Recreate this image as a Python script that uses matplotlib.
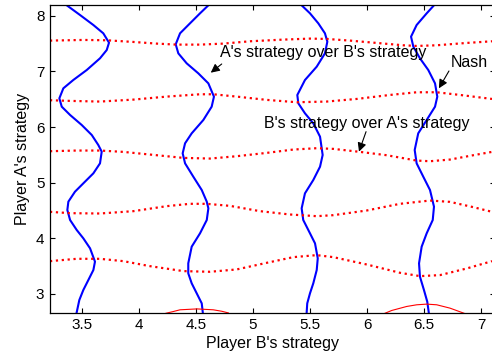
import matplotlib
matplotlib.use('Agg')
import matplotlib.pyplot as plt

plt.rcParams['font.family'] = ['Liberation Sans', 'DejaVu Sans']

# Кривые лучшего ответа A на стратегию B (синие, x как функция от y)
blue1_x = [3.369, 3.485, 3.602, 3.689, 3.739, 3.719, 3.660, 3.544, 3.426, 3.339, 3.304,
           3.325, 3.398, 3.500, 3.588, 3.645, 3.675, 3.660, 3.602, 3.514, 3.441, 3.383,
           3.374, 3.398, 3.456, 3.514, 3.573, 3.616, 3.602, 3.558, 3.514, 3.479, 3.456]
blue1_y = [8.186, 8.012, 7.832, 7.683, 7.515, 7.383, 7.234, 7.024, 6.844, 6.695, 6.515,
           6.365, 6.216, 6.036, 5.856, 5.677, 5.557, 5.347, 5.168, 4.988, 4.838, 4.659,
           4.509, 4.329, 4.150, 4.000, 3.820, 3.581, 3.431, 3.251, 3.072, 2.892, 2.671]

blue2_x = [4.609, 4.536, 4.448, 4.361, 4.323, 4.346, 4.419, 4.521, 4.609, 4.658, 4.638,
           4.565, 4.463, 4.405, 4.384, 4.405, 4.477, 4.551, 4.595, 4.609, 4.595, 4.536,
           4.463, 4.433, 4.433, 4.463, 4.507, 4.551, 4.560]
blue2_y = [8.186, 8.042, 7.862, 7.683, 7.485, 7.323, 7.144, 6.964, 6.784, 6.545, 6.365,
           6.126, 5.886, 5.707, 5.527, 5.347, 5.108, 4.868, 4.659, 4.539, 4.329, 4.090,
           3.850, 3.551, 3.371, 3.192, 3.012, 2.832, 2.671]

blue3_x = [5.426, 5.499, 5.572, 5.630, 5.651, 5.630, 5.558, 5.455, 5.388, 5.397, 5.455,
           5.528, 5.587, 5.610, 5.587, 5.528, 5.455, 5.426, 5.440, 5.499, 5.543, 5.567,
           5.558, 5.528, 5.499, 5.475, 5.470]
blue3_y = [8.186, 8.042, 7.862, 7.683, 7.533, 7.323, 7.084, 6.844, 6.575, 6.425, 6.246,
           6.066, 5.826, 5.497, 5.287, 5.048, 4.808, 4.539, 4.329, 4.090, 3.910, 3.641,
           3.431, 3.192, 3.012, 2.832, 2.671]

blue4_x = [6.585, 6.521, 6.433, 6.384, 6.404, 6.462, 6.535, 6.594, 6.614, 6.594, 6.521,
           6.447, 6.416, 6.433, 6.491, 6.550, 6.585, 6.574, 6.521, 6.477, 6.454, 6.462,
           6.497, 6.526, 6.539]
blue4_y = [8.186, 8.042, 7.832, 7.623, 7.443, 7.234, 7.024, 6.784, 6.545, 6.365, 6.126,
           5.886, 5.587, 5.347, 5.108, 4.868, 4.569, 4.329, 4.090, 3.850, 3.551, 3.311,
           3.072, 2.862, 2.671]

# Кривые лучшего ответа B на стратегию A (красные пунктирные)
red1_x = [3.222, 3.514, 3.719, 3.952, 4.157, 4.332, 4.536, 4.740, 4.974, 5.265, 5.499,
          5.645, 5.849, 6.083, 6.316, 6.433, 6.608, 6.871, 7.093]
red1_y = [7.552, 7.564, 7.558, 7.528, 7.498, 7.480, 7.480, 7.498, 7.540, 7.570, 7.588,
          7.582, 7.552, 7.510, 7.468, 7.456, 7.468, 7.510, 7.540]

red2_x = [3.222, 3.398, 3.660, 3.952, 4.244, 4.536, 4.652, 4.857, 5.120, 5.383, 5.645,
          5.908, 6.200, 6.433, 6.608, 6.812, 7.093]
red2_y = [6.481, 6.469, 6.457, 6.492, 6.546, 6.588, 6.588, 6.546, 6.487, 6.445, 6.457,
          6.504, 6.576, 6.624, 6.624, 6.576, 6.504]

red3_x = [3.222, 3.456, 3.660, 3.864, 4.098, 4.390, 4.623, 4.857, 5.120, 5.353, 5.558,
          5.703, 5.937, 6.171, 6.433, 6.550, 6.725, 6.929, 7.093]
red3_y = [5.565, 5.577, 5.577, 5.553, 5.505, 5.445, 5.433, 5.475, 5.535, 5.595, 5.619,
          5.607, 5.553, 5.493, 5.397, 5.385, 5.415, 5.493, 5.553]

red4_x = [3.222, 3.398, 3.660, 3.952, 4.244, 4.448, 4.595, 4.799, 5.061, 5.324, 5.558,
          5.703, 5.996, 6.287, 6.550, 6.725, 6.929, 7.093]
red4_y = [4.476, 4.452, 4.446, 4.488, 4.578, 4.620, 4.620, 4.583, 4.488, 4.428, 4.398,
          4.416, 4.500, 4.620, 4.679, 4.655, 4.560, 4.476]

red5_x = [3.222, 3.456, 3.660, 3.864, 4.098, 4.390, 4.623, 4.857, 5.120, 5.353, 5.558,
          5.703, 5.996, 6.287, 6.462, 6.637, 6.871, 7.093]
red5_y = [3.590, 3.632, 3.632, 3.590, 3.500, 3.411, 3.399, 3.441, 3.560, 3.662, 3.698,
          3.662, 3.530, 3.381, 3.321, 3.339, 3.458, 3.590]

# Небольшие дуги у нижней границы
arc1_x = [4.238, 4.302, 4.361, 4.510, 4.652, 4.726, 4.784]
arc1_y = [2.654, 2.685, 2.716, 2.732, 2.716, 2.690, 2.660]
arc2_x = [6.156, 6.215, 6.346, 6.434, 6.521, 6.609, 6.725, 6.848]
arc2_y = [2.654, 2.704, 2.776, 2.806, 2.818, 2.806, 2.746, 2.654]

x_ticks = [3.5, 4, 4.5, 5, 5.5, 6, 6.5, 7]
x_tick_labels = ['3.5', '4', '4.5', '5', '5.5', '6', '6.5', '7']
y_ticks = [3, 4, 5, 6, 7, 8]

fig = plt.figure(figsize=(4.92, 3.62), dpi=100)
ax = fig.add_axes([0.1016, 0.1362, 0.9035, 0.8508])

for xs, ys in [(blue1_x, blue1_y), (blue2_x, blue2_y),
               (blue3_x, blue3_y), (blue4_x, blue4_y)]:
    ax.plot(xs, ys, color='#0000ff', lw=1.5, solid_joinstyle='round')

for xs, ys in [(red1_x, red1_y), (red2_x, red2_y), (red3_x, red3_y),
               (red4_x, red4_y), (red5_x, red5_y)]:
    ax.plot(xs, ys, color='#ff0000', lw=1.6, linestyle=':')

for xs, ys in [(arc1_x, arc1_y), (arc2_x, arc2_y)]:
    ax.plot(xs, ys, color='#ff0000', lw=0.8)

ax.set_xlim(3.222, 7.115)
ax.set_ylim(2.664, 8.197)
ax.set_xticks(x_ticks)
ax.set_xticklabels(x_tick_labels)
ax.set_yticks(y_ticks)
ax.tick_params(direction='in', top=True, right=True, length=3.6, width=0.8,
               labelsize=11, pad=4)
for sp in ax.spines.values():
    sp.set_linewidth(0.9)

ax.set_xlabel("Player B's strategy", fontsize=11.5, labelpad=3)
ax.set_ylabel("Player A's strategy", fontsize=11.5, labelpad=4)

# Подписи и стрелки
arrow = dict(arrowstyle='-|>', color='k', lw=0.8, mutation_scale=13,
             shrinkA=0, shrinkB=0)
ax.text(5.613, 7.252, "A's strategy over B's strategy", fontsize=11.5,
        ha='center', va='baseline')
ax.annotate('', xy=(4.630, 6.976), xytext=(4.726, 7.132), arrowprops=arrow)

ax.text(6.893, 7.084, "Nash", fontsize=11.5, ha='center', va='baseline')
ax.annotate('', xy=(6.628, 6.695), xytext=(6.716, 7.006), arrowprops=arrow)

ax.text(5.992, 5.988, "B's strategy over A's strategy", fontsize=11.5,
        ha='center', va='baseline')
ax.annotate('', xy=(5.928, 5.557), xytext=(5.990, 5.916), arrowprops=arrow)

plt.savefig('out.png', dpi=100)
